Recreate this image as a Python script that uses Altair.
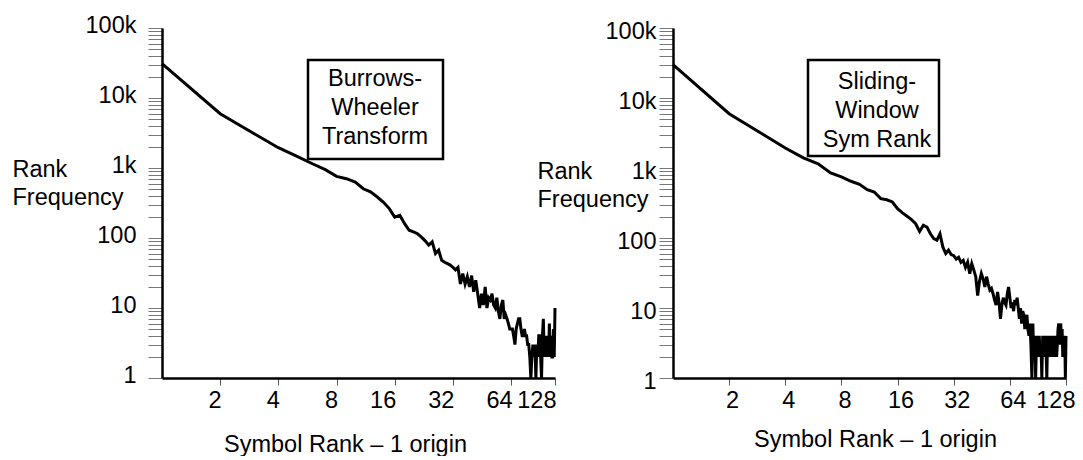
import altair as alt
import pandas as pd

FONT = "Liberation Sans"
FS = 23.5

# ---------------- data ----------------
bwt_freq = [
    30900, 5970, 3090, 1950, 1470, 1150, 946, 760, 703, 630,
    505, 458, 385, 324, 263, 199, 211, 160, 129, 122,
    115, 103, 91, 79, 88, 60, 67, 48, 45, 43,
    41, 38, 35, 38, 22, 31, 22, 28, 20, 29,
    17, 25, 16, 10, 16, 11, 20, 10, 14, 13,
    16, 11, 10, 14, 9, 7, 11, 13, 7, 8,
    7, 6, 5, 5, 5, 4, 3, 5, 6, 7,
    7, 5, 4, 4, 5, 4, 4, 3, 3, 2,
    1, 2, 3, 2, 3, 1, 3, 2, 4, 4,
    2, 1, 4, 7, 2, 4, 2, 3, 4, 2,
    6, 2, 4, 2, 2, 5, 2, 10,
]
bwt_rank = list(range(1, len(bwt_freq) + 1))

sws_freq = [
    29900, 5970, 3090, 1930, 1400, 1150, 850, 745, 646, 585,
    490, 454, 365, 352, 327, 262, 228, 204, 183, 160,
    124, 152, 143, 115, 98, 93, 115, 74, 60, 67,
    58, 56, 50, 53, 45, 48, 38, 45, 31, 43,
    35, 28, 15, 24, 31, 26, 20, 28, 22, 18,
    19, 16, 13, 11, 17, 12, 7, 11, 14, 12,
    11, 16, 20, 14, 10, 12, 9, 13, 11, 14,
    10, 7, 10, 6, 9, 8, 5, 6, 8, 5,
    4, 6, 3, 1, 6, 2, 4, 1, 4, 2,
    3, 4, 2, 3, 1, 4, 3, 2, 4, 3,
    1, 4, 2, 3, 4, 2, 3, 2, 4, 3,
    2, 3, 4, 2, 3, 5, 6, 3, 5, 6,
    3, 5, 2, 4, 3, 4, 1, 4,
]
sws_rank = list(range(1, len(sws_freq) + 1))

y_tick_values = [m * 10 ** e for e in range(0, 5) for m in range(1, 10)] + [100000]
y_label_values = [1, 10, 100, 1000, 10000, 100000]
y_label_texts = ["1", "10", "100", "1k", "10k", "100k"]

bwt_x_ticks = [2, 4, 8, 16, 32, 64, 108]
bwt_x_labels = ["2", "4", "8", "16", "32", "64", "128"]
sws_x_ticks = [2, 4, 8, 16, 32, 64, 128]
sws_x_labels = ["2", "4", "8", "16", "32", "64", "128"]

x_title = "Symbol Rank \u2013 1 origin"
y_title = ["Rank", "Frequency"]
bwt_box = ["Burrows-", "Wheeler", "Transform"]
sws_box = ["Sliding-", "Window", "Sym Rank"]


def label_expr(vals, texts):
    expr = "''"
    for v, t in zip(reversed(vals), reversed(texts)):
        expr = f"datum.value == {v} ? '{t}' : ({expr})"
    return expr


W, H = 393, 350


def panel(ranks, freqs, xmax, xticks, xlabels, ylab_pad, ylab_off, ytitle_x, ytitle_y,
          xlabel_align, xlabel_off, xtitle_x, xtitle_y, box_lines, box, text_xy):
    df = pd.DataFrame({"rank": ranks, "freq": freqs})
    yaxis = alt.Axis(
        values=y_tick_values,
        labelExpr=label_expr(y_label_values, y_label_texts),
        labelOverlap=False,
        labelBound=False,
        labelFlush=False,
        tickSize=14, tickColor="#777", tickWidth=1,
        domainColor="black", domainWidth=2.5,
        labelPadding=ylab_pad, labelOffset=ylab_off,
        labelFont=FONT, labelFontSize=FS, labelColor="black",
        grid=False,
        title=y_title, titleAngle=0, titleAlign="left", titleBaseline="top",
        titleX=ytitle_x, titleY=ytitle_y, titleFont=FONT, titleFontSize=FS,
        titleFontWeight="normal", titleColor="black", titleLineHeight=28.5,
    )
    xaxis = alt.Axis(
        values=xticks,
        labelExpr=label_expr(xticks, xlabels),
        labelOverlap=False,
        labelBound=False,
        labelFlush=False,
        tickSize=7, tickColor="#555", tickWidth=1,
        domainColor="black", domainWidth=2.5,
        labelPadding=3, labelAlign=xlabel_align, labelOffset=xlabel_off,
        labelFont=FONT, labelFontSize=FS, labelColor="black",
        grid=False,
        title=x_title, titleAlign="center", titleBaseline="top",
        titleX=xtitle_x, titleY=xtitle_y, titleFont=FONT, titleFontSize=FS,
        titleFontWeight="normal", titleColor="black",
    )
    line = alt.Chart(df).mark_line(color="black", strokeWidth=3).encode(
        x=alt.X("rank:Q", scale=alt.Scale(type="log", domain=[1, xmax], nice=False), axis=xaxis),
        y=alt.Y("freq:Q", scale=alt.Scale(type="log", domain=[1, 100000], nice=False), axis=yaxis),
    )
    one = pd.DataFrame({"a": [0]})
    rect = alt.Chart(one).mark_rect(fill="white", stroke="black", strokeWidth=2.5).encode(
        x=alt.value(box[0]), x2=alt.value(box[1]), y=alt.value(box[2]), y2=alt.value(box[3])
    )
    txt = alt.Chart(one).mark_text(
        text=box_lines, align="center", baseline="top", font=FONT, fontSize=FS,
        lineHeight=29, color="black",
    ).encode(x=alt.value(text_xy[0]), y=alt.value(text_xy[1]))
    return alt.layer(line, rect, txt).properties(width=W, height=H)


left = panel(
    bwt_rank, bwt_freq, 108, bwt_x_ticks, bwt_x_labels,
    ylab_pad=12, ylab_off=-3, ytitle_x=-150, ytitle_y=129,
    xlabel_align="right", xlabel_off=1, xtitle_x=183, xtitle_y=54,
    box_lines=bwt_box, box=(146, 281, 32, 131), text_xy=(213, 39),
)
right = panel(
    sws_rank, sws_freq, 128, sws_x_ticks, sws_x_labels,
    ylab_pad=3, ylab_off=3, ytitle_x=-136, ytitle_y=131,
    xlabel_align={"condition": {"test": "datum.value == 128", "value": "right"}, "value": "center"},
    xlabel_off={"condition": {"test": "datum.value == 128", "value": 9}, "value": 3},
    xtitle_x=202, xtitle_y=49,
    box_lines=sws_box, box=(135, 266, 32, 128), text_xy=(204, 42),
)

chart = alt.hconcat(left, right, spacing=118, bounds="flush").properties(
    padding={"left": 4, "top": 5, "right": 0, "bottom": 0},
    background="white",
).configure_view(stroke=None)

chart.save("out.html", embed_options={"renderer": "svg", "actions": False})
